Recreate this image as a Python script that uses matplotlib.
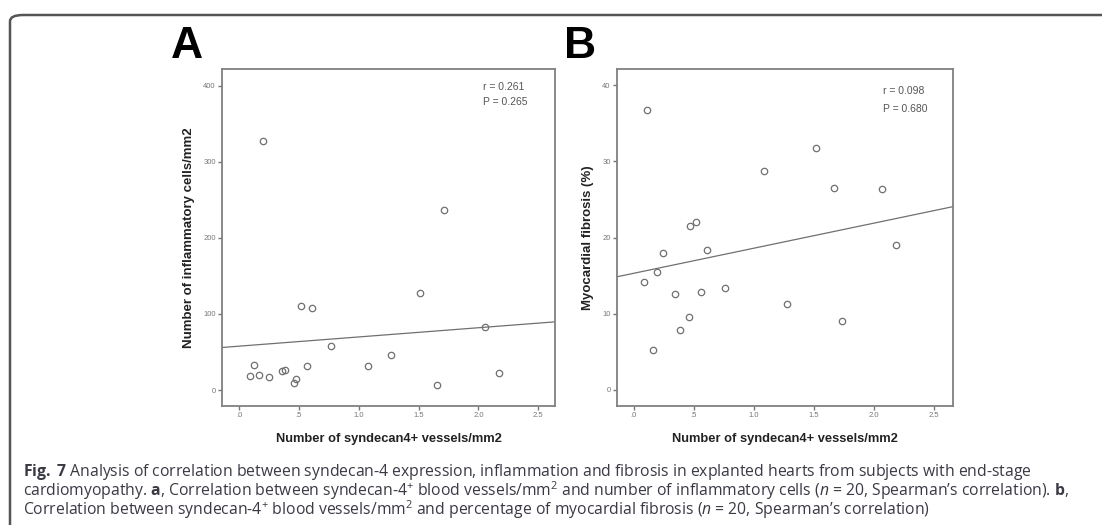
import matplotlib
matplotlib.use("Agg")
import matplotlib.pyplot as plt
import numpy as np
from matplotlib import font_manager
from matplotlib.patches import FancyBboxPatch

# --- data ---
vessels_a = [0.095, 0.125, 0.167, 0.200, 0.253, 0.357, 0.387, 0.462, 0.474, 0.521,
             0.565, 0.610, 0.766, 1.078, 1.267, 1.510, 1.657, 1.716, 2.059, 2.170]
inflam_a = [18.4, 32.5, 19.7, 327.6, 17.5, 25.4, 25.9, 8.8, 14.5, 110.5,
            32.0, 108.3, 57.5, 31.6, 46.1, 128.0, 6.1, 236.8, 82.5, 22.4]

vessels_b = [0.086, 0.114, 0.158, 0.192, 0.247, 0.347, 0.381, 0.456, 0.467, 0.519,
             0.564, 0.606, 0.764, 1.083, 1.275, 1.517, 1.667, 1.731, 2.072, 2.186]
fibrosis_b = [14.17, 36.7, 5.22, 15.44, 17.98, 12.59, 7.81, 9.52, 21.54, 22.06,
              12.81, 18.38, 13.38, 28.7, 11.23, 31.8, 26.5, 9.04, 26.3, 18.99]

x_ticks = [0.0, 0.5, 1.0, 1.5, 2.0, 2.5]
x_ticklabels = [".0", ".5", "1.0", "1.5", "2.0", "2.5"]
y_ticks_a = [0, 100, 200, 300, 400]
y_ticks_b = [0, 10, 20, 30, 40]

stats_a = ["r = 0.261", "P = 0.265"]
stats_b = ["r = 0.098", "P = 0.680"]

xlabel = "Number of syndecan4+ vessels/mm2"
ylabel_a = "Number of inflammatory cells/mm2"
ylabel_b = "Myocardial fibrosis (%)"

caption = [
    r"$\mathbf{Fig.}$ $\mathbf{7}$ Analysis of correlation between syndecan-4 expression, inflammation and fibrosis in explanted hearts from subjects with end-stage",
    r"cardiomyopathy. $\mathbf{a}$, Correlation between syndecan-4$^{+}$ blood vessels/mm$^{2}$ and number of inflammatory cells ($\mathit{n}$ = 20, Spearman’s correlation). $\mathbf{b}$,",
    r"Correlation between syndecan-4$^{+}$ blood vessels/mm$^{2}$ and percentage of myocardial fibrosis ($\mathit{n}$ = 20, Spearman’s correlation)",
]

names = {f.name for f in font_manager.fontManager.ttflist}
cap_font = "Liberation Sans Narrow" if "Liberation Sans Narrow" in names else "Open Sans"

plt.rcParams['mathtext.fontset'] = 'custom'
plt.rcParams['mathtext.rm'] = cap_font
plt.rcParams['mathtext.it'] = cap_font + ':italic'
plt.rcParams['mathtext.bf'] = cap_font + ':bold'
plt.rcParams['font.family'] = ['Liberation Sans', 'DejaVu Sans']

W, H = 1102, 525
fig = plt.figure(figsize=(W / 100, H / 100), dpi=100)

# rounded frame, open on right and bottom
frame = FancyBboxPatch((10 / W, -40 / H), 1.2, (H - 15 + 40) / H,
                       boxstyle="round,pad=0,rounding_size=0.012",
                       transform=fig.transFigure, fill=False,
                       edgecolor='#555555', linewidth=1.8, clip_on=False)
fig.patches.append(frame)


def panel(rect, xs, ys, yticks, xlim, ylim, ylabel, stats, stat_pos):
    ax = fig.add_axes(rect)
    ax.plot(xs, ys, 'o', mfc='none', mec='#707070', ms=4.6, mew=0.9)
    k, b = np.polyfit(xs, ys, 1)
    lx = np.array(xlim)
    ax.plot(lx, k * lx + b, color='#707070', lw=0.9)
    ax.set_xlim(xlim)
    ax.set_ylim(ylim)
    ax.set_xticks(x_ticks)
    ax.set_xticklabels(x_ticklabels)
    ax.set_yticks(yticks)
    ax.tick_params(labelsize=5.5, labelcolor='#777777', color='#777777',
                   length=3, width=1, pad=1.5)
    for s in ax.spines.values():
        s.set_color('#808080')
        s.set_linewidth(1.3)
    ax.set_xlabel(xlabel, fontsize=9.3, fontweight='bold', color='#222222', labelpad=10)
    ax.set_ylabel(ylabel, fontsize=9.5, fontweight='bold', color='#222222', labelpad=6)
    for txt, (tx, ty) in zip(stats, stat_pos):
        ax.text(tx, ty, txt, transform=ax.transAxes, fontsize=7.5, color='#555555',
                va='center', ha='left')
    return ax


panel([222 / W, 1 - 406 / H, 333 / W, 337 / H], vessels_a, inflam_a, y_ticks_a,
      (-0.142, 2.64), (-21, 422), ylabel_a, stats_a, [(0.784, 0.947), (0.784, 0.902)])
panel([617 / W, 1 - 406 / H, 336 / W, 337 / H], vessels_b, fibrosis_b, y_ticks_b,
      (-0.14, 2.66), (-2.1, 42.1), ylabel_b, stats_b, [(0.792, 0.935), (0.792, 0.881)])

fig.text(187 / W, 1 - 46 / H, "A", fontsize=32, fontweight='bold', ha='center', va='center')
fig.text(580 / W, 1 - 46 / H, "B", fontsize=32, fontweight='bold', ha='center', va='center')

cap_size = 12 if cap_font == "Liberation Sans Narrow" else 11.35
for i, line in enumerate(caption):
    fig.text(23 / W, 1 - (472 + 19 * i) / H, line, fontsize=cap_size, family=cap_font,
             color='#3a3a46', ha='left', va='center')

fig.savefig("out.png", dpi=100)
